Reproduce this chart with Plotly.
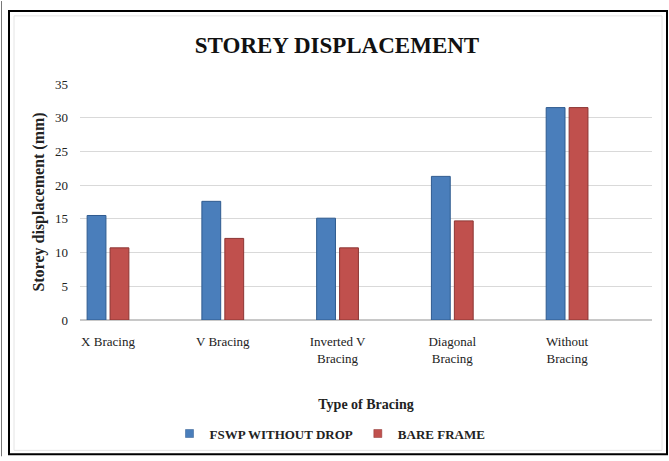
import plotly.graph_objects as go

categories = ["X Bracing", "V Bracing", "Inverted V<br>Bracing", "Diagonal<br>Bracing", "Without<br>Bracing"]
fswp_without_drop = [15.5, 17.6, 15.1, 21.3, 31.5]
bare_frame = [10.7, 12.1, 10.7, 14.7, 31.5]
y_ticks = [0, 5, 10, 15, 20, 25, 30, 35]
series_names = ["FSWP WITHOUT DROP", "BARE FRAME"]
series_colors = ["#4a7ebb", "#c0504d"]
series_edges = ["#2f5b8f", "#8c3533"]

W, H = 669, 461
L, R, T, B = 80, 652, 84, 323  # plot area pixels


def px(x):
    return (x - L) / (R - L)


def py(y):
    return (B - y) / (B - T)


FONT = "Liberation Serif, Times New Roman, serif"

fig = go.Figure()
for name, vals, col, edge in zip(series_names, [fswp_without_drop, bare_frame],
                                 series_colors, series_edges):
    fig.add_trace(go.Bar(
        name=name, x=categories, y=vals, showlegend=False,
        marker=dict(color=col, line=dict(color=edge, width=1)),
    ))
# legend entries with small square keys
for name, col, edge in zip(series_names, series_colors, series_edges):
    fig.add_trace(go.Scatter(
        name="<b>" + name + "</b>", x=[None], y=[None], mode="markers",
        marker=dict(symbol="square", size=8, color=col, line=dict(color=edge, width=0.5)),
    ))

fig.update_layout(
    width=W, height=H,
    margin=dict(l=L, r=W - R, t=T, b=H - B),
    paper_bgcolor="white", plot_bgcolor="white",
    barmode="group", bargap=0.6, bargroupgap=0.18,
    font=dict(family=FONT, color="#1a1a1a", size=13),
    title=dict(text="<b>STOREY DISPLACEMENT</b>", x=337 / W, xanchor="center",
               y=1 - 45 / H, yanchor="middle",
               font=dict(family=FONT, size=23, color="#111111")),
    xaxis=dict(
        type="category", range=[-0.244, 4.74], automargin=False,
        showgrid=False, showline=False, ticks="", ticklabelstandoff=12,
        tickfont=dict(family=FONT, size=13, color="#222222"),
        title=dict(text="<b>Type of Bracing</b>", standoff=34,
                   font=dict(family=FONT, size=14, color="#222222")),
    ),
    yaxis=dict(
        range=[0, 35], tickvals=y_ticks, showgrid=True, gridcolor="#d9d9d9",
        gridwidth=1, zeroline=True, zerolinecolor="#c8c8c8", showline=False,
        ticks="", ticklabelstandoff=11, automargin=False,
        tickfont=dict(family=FONT, size=13, color="#222222"),
        title=dict(text="<b>Storey displacement (mm)</b>", standoff=6,
                   font=dict(family=FONT, size=16, color="#222222")),
    ),
    legend=dict(orientation="h", x=px(330), xanchor="center", y=py(438),
                yanchor="middle", font=dict(family=FONT, size=13, color="#222222"),
                itemwidth=30, traceorder="normal", bgcolor="rgba(0,0,0,0)"),
    showlegend=True,
)

# light inner frame
fig.add_shape(type="rect", xref="paper", yref="paper",
              x0=px(14), x1=px(662), y0=py(455), y1=py(15),
              line=dict(color="#e4e4e4", width=1), layer="below")
# black outer frame
fig.add_shape(type="rect", xref="paper", yref="paper",
              x0=px(9), x1=px(667), y0=py(459), y1=py(10),
              line=dict(color="#000000", width=2))
# page edge line
fig.add_shape(type="line", xref="paper", yref="paper",
              x0=px(1.5), x1=px(1.5), y0=py(461), y1=py(0),
              line=dict(color="#777777", width=1))

fig.write_html("out.html", config={"displayModeBar": False},
               post_script="document.body.style.margin='0';")
